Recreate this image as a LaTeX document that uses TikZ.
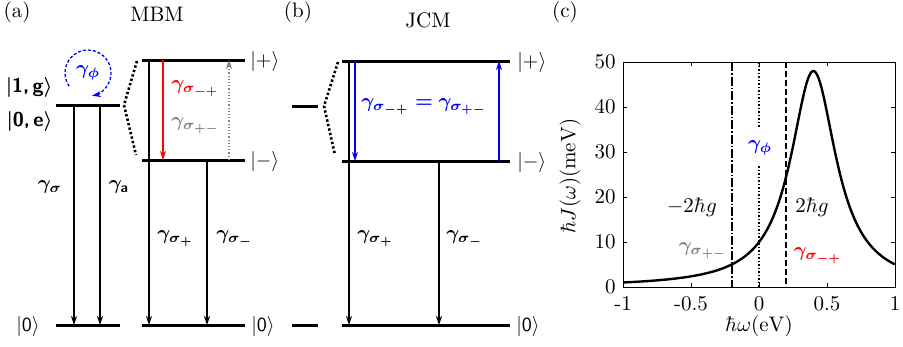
\documentclass[tikz,border=0pt]{standalone}
\usepackage{amsmath,bm}
\usetikzlibrary{arrows.meta}
\tikzset{
  lvl/.style={line width=3pt},
  tr/.style={line width=1.2pt,-{Stealth[length=9pt,width=6pt]}},
  lab/.style={scale=2.0, inner sep=0pt},
  axlab/.style={scale=2.1, inner sep=0pt},
  split/.style={line width=2.6pt, dash pattern=on 2.4pt off 2.2pt},
  tick/.style={line width=0.8pt},
}
\newcommand{\ketb}[1]{$\bm{\lvert}$\textsf{\bfseries #1}$\bm{\rangle}$}
\newcommand{\ketn}[1]{$\lvert$\textsf{#1}$\rangle$}
\begin{document}
\begin{tikzpicture}[x=1pt,y=-1pt]
\useasboundingbox (0,0) rectangle (903,346);
% ---------- headers
\node[axlab] (ha) at (17,12) {(a)};
\node[axlab] (hmbm) at (157,14) {MBM};
\node[axlab] (hb) at (298,12) {(b)};
\node[axlab] (hjcm) at (428,20) {JCM};
\node[axlab] (hc) at (565,12) {(c)};
% ---------- panel (a), left part
\draw[lvl] (56,105) coordinate (e1l) -- (120,105) coordinate (e1r);
\draw[lvl] (56,325) coordinate (g1l) -- (120,325) coordinate (g1r);
\coordinate (a1t) at (74,105); \coordinate (a1b) at (74,325);
\coordinate (a2t) at (100,105); \coordinate (a2b) at (100,325);
\draw[tr] (a1t) -- (a1b);
\draw[tr] (a2t) -- (a2b);
\node[lab, anchor=east] (k1g) at (53,87) {\ketb{1,\,g}};
\node[lab, anchor=east] (k0e) at (53,121) {\ketb{0,\,e}};
\node[lab, anchor=east] (k0a) at (40,326) {\ketn{0}};
\node[lab] (gs) at (50,187) {$\bm{\gamma_{\sigma}}$};
\node[lab] (ga) at (119,187) {$\bm{\gamma}_{\textsf{\bfseries a}}$};
\node[lab, text=blue] (gphi) at (88,73) {$\bm{\gamma_{\phi}}$};
\draw[blue, line width=1.3pt, dash pattern=on 3pt off 2pt, -{Stealth[length=9pt,width=6pt]}]
  (gphi.center) ++(-215:23) arc[start angle=-215, end angle=80, radius=23];
% split lines
\coordinate (sa) at (124,105);
\draw[split] (137,61) -- (sa) -- (136,155);
% ---------- panel (a), MBM block
\draw[lvl] (142,60) coordinate (pl) -- (245,60) coordinate (pr);
\draw[lvl] (142,160) coordinate (ml) -- (245,160) coordinate (mr);
\draw[lvl] (142,325) coordinate (gl) -- (245,325) coordinate (gr);
\coordinate (b1t) at (149,60); \coordinate (b1b) at (149,325);
\coordinate (b2t) at (207,160); \coordinate (b2b) at (207,325);
\draw[tr] (b1t) -- (b1b);
\draw[tr] (b2t) -- (b2b);
\coordinate (rt) at (163,60); \coordinate (rb) at (163,160);
\draw[tr, red] (rt) -- (rb);
\coordinate (yt) at (229,60); \coordinate (yb) at (229,160);
\draw[tr, gray, dotted] (yb) -- (yt);
\node[lab, anchor=west] (kp1) at (250,61) {$\lvert{+}\rangle$};
\node[lab, anchor=west] (km1) at (250,161) {$\lvert{-}\rangle$};
\node[lab, anchor=west] (k01) at (251,326) {\ketn{0}};
\node[lab, anchor=west, text=red] (gmp1) at (171,89) {$\bm{\gamma_{\sigma_{-+}}}$};
\node[lab, anchor=west, text=gray] (gpm1) at (171,126) {$\bm{\gamma_{\sigma_{+-}}}$};
\node[lab, anchor=west] (gsp1) at (157,239) {$\bm{\gamma_{\sigma_{+}}}$};
\node[lab, anchor=west] (gsm1) at (216,239) {$\bm{\gamma_{\sigma_{-}}}$};
% ---------- panel (b)
\draw[lvl] (292,106) coordinate (sl) -- (318,106) coordinate (sr);
\draw[lvl] (292,325) coordinate (sgl) -- (318,325) coordinate (sgr);
\coordinate (sb) at (324,106);
\draw[split] (338,62) -- (sb) -- (335,155);
\draw[lvl] (342,61) coordinate (jpl) -- (510,61) coordinate (jpr);
\draw[lvl] (342,161) coordinate (jml) -- (510,161) coordinate (jmr);
\draw[lvl] (342,325) coordinate (jgl) -- (510,325) coordinate (jgr);
\coordinate (c1t) at (349,61); \coordinate (c1b) at (349,325);
\coordinate (c2t) at (439,161); \coordinate (c2b) at (439,325);
\draw[tr] (c1t) -- (c1b);
\draw[tr] (c2t) -- (c2b);
\coordinate (bdt) at (355,61); \coordinate (bdb) at (355,161);
\coordinate (but) at (499,61); \coordinate (bub) at (499,161);
\draw[tr, blue] (bdt) -- (bdb);
\draw[tr, blue] (bub) -- (but);
\node[lab, anchor=west, text=blue] (geq) at (361,107) {$\bm{\gamma_{\sigma_{-+}}=\gamma_{\sigma_{+-}}}$};
\node[lab, anchor=west] (kp2) at (517,62) {$\lvert{+}\rangle$};
\node[lab, anchor=west] (km2) at (517,162) {$\lvert{-}\rangle$};
\node[lab, anchor=west] (k02) at (516,326) {\ketn{0}};
\node[lab, anchor=west] (gsp2) at (357,239) {$\bm{\gamma_{\sigma_{+}}}$};
\node[lab, anchor=west] (gsm2) at (446,239) {$\bm{\gamma_{\sigma_{-}}}$};
% ---------- panel (c)
\begin{scope}
\clip (623,62) rectangle (895,287);
\draw[line width=2.4pt] plot[domain=-1:1, samples=240, smooth]
  ({759+136*\x}, {287-4.5*2.016/((\x-0.4)*(\x-0.4)+0.042)});
\end{scope}
\draw[line width=1.5pt, dash pattern=on 9pt off 2pt on 1.5pt off 2pt] (731.8,62) -- (731.8,287);
\draw[line width=1.5pt, dotted] (759,62) -- (759,128);
\draw[line width=1.5pt, dotted] (759,166) -- (759,287);
\draw[line width=1.5pt, dash pattern=on 6pt off 3pt] (786.2,62) -- (786.2,287);
\draw[line width=1pt] (623,62) rectangle (895,287);
\foreach \v/\t in {-1/-1,-0.5/-0.5,0/0,0.5/0.5,1/1}{
  \draw[tick] ({759+136*\v},287) -- ++(0,-4);
  \draw[tick] ({759+136*\v},62) -- ++(0,4);
  \node[axlab] at ({759+136*\v},304) {\t};
}
\foreach \v in {0,10,20,30,40,50}{
  \draw[tick] (623,{287-4.5*\v}) -- ++(4,0);
  \draw[tick] (895,{287-4.5*\v}) -- ++(-4,0);
  \node[axlab, anchor=east] at (616,{287-4.5*\v}) {\v};
}
\node[axlab] (xl) at (759,326) {$\hbar\omega(\mathrm{eV})$};
\node[axlab, rotate=90] (yl) at (570,176) {$\hbar J(\omega)(\mathrm{meV})$};
\node[lab, text=blue] (gphi2) at (760,148) {$\bm{\gamma_{\phi}}$};
\node[axlab] (m2g) at (692,207) {$-2\hbar g$};
\node[axlab] (p2g) at (812,207) {$2\hbar g$};
\node[lab, text=gray] (gpm3) at (703,251) {$\bm{\gamma_{\sigma_{+-}}}$};
\node[lab, text=red] (gmp3) at (818,256) {$\bm{\gamma_{\sigma_{-+}}}$};
\end{tikzpicture}
\end{document}
